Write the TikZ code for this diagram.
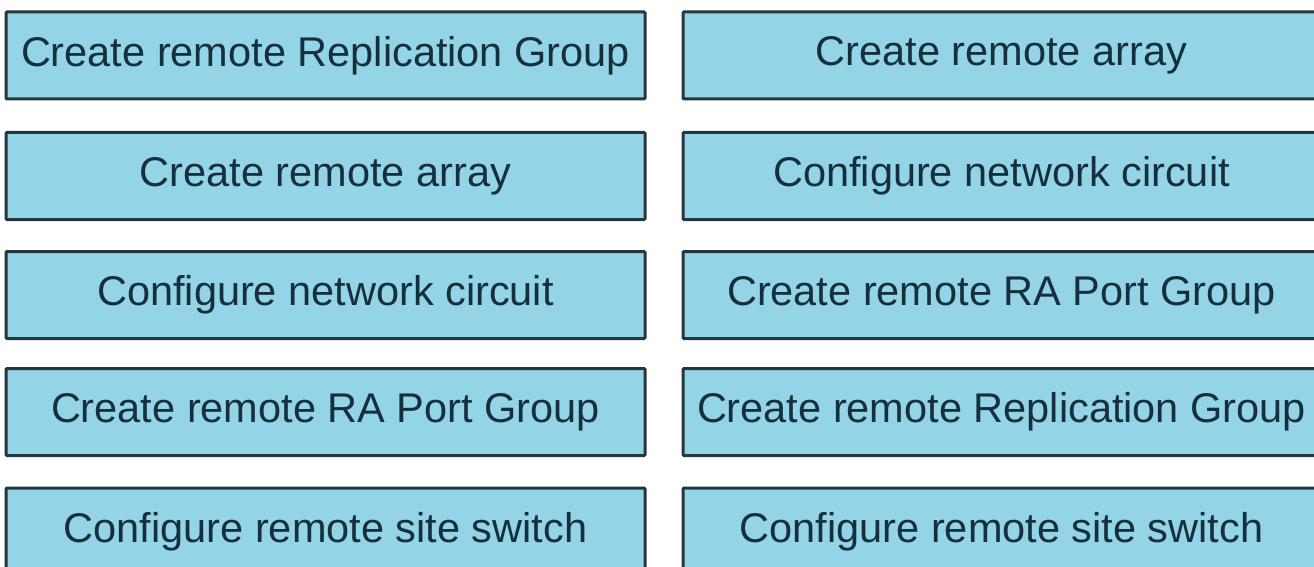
\documentclass[tikz,border=0pt]{standalone}
\usepackage{fontspec}
\setmainfont{Liberation Sans}
\definecolor{boxfill}{HTML}{93D4E6}
\definecolor{boxline}{HTML}{26363E}
\definecolor{boxtext}{HTML}{15303C}
\tikzset{
  stepbox/.style={draw=boxline, fill=boxfill, line width=3pt, rounded corners=1pt,
    inner sep=0pt, minimum height=87pt, text=boxtext,
    font=\fontsize{41.5}{48}\selectfont},
  leftbox/.style={stepbox, minimum width=639pt},
  rightbox/.style={stepbox, minimum width=637pt}
}
\begin{document}
\begin{tikzpicture}[x=1pt,y=-1pt]
  \clip (0,0) rectangle (1314,567);
  \fill[white] (0,0) rectangle (1314,567);

  % left column
  \node[leftbox] (l1) at (325.5,55.5)  {Create remote Replication Group};
  \node[leftbox] (l2) at (325.5,176)   {Create remote array};
  \node[leftbox] (l3) at (325.5,295)   {Configure network circuit};
  \node[leftbox] (l4) at (325.5,412)   {Create remote RA Port Group};
  \node[leftbox] (l5) at (325.5,531.5) {Configure remote site switch};

  % right column
  \node[rightbox] (r1) at (1001.5,55.5)  {Create remote array};
  \node[rightbox] (r2) at (1001.5,176)   {Configure network circuit};
  \node[rightbox] (r3) at (1001.5,295)   {Create remote RA Port Group};
  \node[rightbox] (r4) at (1001.5,412)   {Create remote Replication Group};
  \node[rightbox] (r5) at (1001.5,531.5) {Configure remote site switch};
\end{tikzpicture}
\end{document}
